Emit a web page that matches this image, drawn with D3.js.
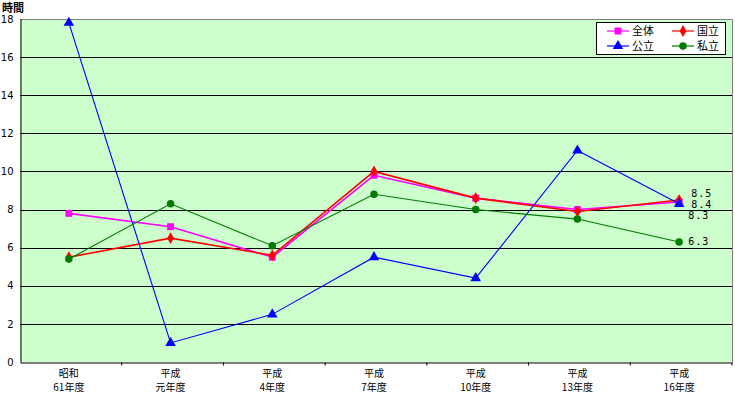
<!DOCTYPE html>
<html lang="ja">
<head>
  <meta charset="UTF-8">
  <title>時間</title>
  <style>
    body { margin: 0; background: #fff; }
    text { font-family: "Noto Sans CJK JP", "DejaVu Sans", sans-serif; }
    .grid { stroke: #000; stroke-width: 1; }
    .lbl { font-size: 10px; fill: #000; }
  </style>
</head>
<body>
  <div id="chart"></div>
  <script src="https://cdn.jsdelivr.net/npm/d3@7"></script>
  <script>
    // カテゴリ
    var categories = [['昭和', '61年度'], ['平成', '元年度'], ['平成', '4年度'], ['平成', '7年度'],
      ['平成', '10年度'], ['平成', '13年度'], ['平成', '16年度']];
    var yTicks = [0, 2, 4, 6, 8, 10, 12, 14, 16, 18];
    var zentai = [7.8, 7.1, 5.5, 9.8, 8.6, 8.0, 8.4];
    var kokuritsu = [5.5, 6.5, 5.6, 10.0, 8.6, 7.9, 8.5];
    var kouritsu = [17.8, 1.0, 2.5, 5.5, 4.4, 11.1, 8.3];
    var shiritsu = [5.4, 8.3, 6.1, 8.8, 8.0, 7.5, 6.3];

    var series = [
      { name: '全体', values: zentai, color: '#ff00ff', mark: 'square', w: 1.6 },
      { name: '国立', values: kokuritsu, color: '#ff0000', mark: 'diamond', w: 1.6 },
      { name: '公立', values: kouritsu, color: '#0000ff', mark: 'triangle', w: 1.1 },
      { name: '私立', values: shiritsu, color: '#007a00', mark: 'circle', w: 1.1 }
    ];
    // 最後の年度に値ラベルを付ける
    var endLabels = [
      { v: kokuritsu[6], dx: 12, dy: -3 },
      { v: zentai[6], dx: 12, dy: 6 },
      { v: kouritsu[6], dx: 9, dy: 15 },
      { v: shiritsu[6], dx: 9, dy: 3 }
    ];

    var W = 735, H = 394;
    var pL = 20, pR = 732, pT = 19, pB = 362;

    var svg = d3.select('#chart').append('svg')
      .attr('width', W).attr('height', H);

    var x = d3.scaleBand().domain(d3.range(categories.length)).range([pL, pR]);
    var y = d3.scaleLinear().domain([0, 18]).range([pB, pT]);

    svg.append('rect')
      .attr('x', pL).attr('y', pT)
      .attr('width', pR - pL).attr('height', pB - pT)
      .attr('fill', '#ccffcc');

    // 目盛線
    svg.selectAll('line.grid')
      .data(yTicks.filter(function (d) { return d > 0 && d < 18; }))
      .enter().append('line')
      .attr('class', 'grid')
      .attr('x1', pL).attr('x2', pR)
      .attr('y1', function (d) { return Math.round(y(d)) + 0.5; })
      .attr('y2', function (d) { return Math.round(y(d)) + 0.5; });

    // 枠 (上・右は灰色)
    svg.append('path')
      .attr('d', 'M' + pL + ',' + (pT + 0.5) + 'H' + (pR + 0.5) + 'V' + pB)
      .attr('fill', 'none').attr('stroke', '#808080');

    // y軸
    var yAxis = svg.append('g')
      .attr('transform', 'translate(' + (pL + 0.5) + ',0)')
      .call(d3.axisLeft(y).tickValues(yTicks).tickSize(0).tickPadding(7));
    yAxis.select('.domain').attr('stroke', '#000');
    yAxis.selectAll('text').attr('class', 'lbl').style('font-size', '10px')
      .style('font-family', '"DejaVu Sans", sans-serif');

    // x軸
    var xAxis = svg.append('g')
      .attr('transform', 'translate(0,' + (pB + 0.5) + ')')
      .call(d3.axisBottom(x).tickSize(0).tickFormat(''));
    xAxis.select('.domain').attr('stroke', '#000').attr('stroke-width', 1.2);
    xAxis.selectAll('line.sep')
      .data(d3.range(1, categories.length + 1))
      .enter().append('line')
      .attr('x1', function (i) { return x(i) !== undefined ? x(i) : pR; })
      .attr('x2', function (i) { return x(i) !== undefined ? x(i) : pR; })
      .attr('y1', 0).attr('y2', 3)
      .attr('stroke', '#000');

    function cx(i) { return x(i) + x.bandwidth() / 2 - 2; }

    var xl = svg.append('g').selectAll('text.xl')
      .data(categories).enter().append('text')
      .attr('class', 'lbl')
      .attr('text-anchor', 'middle')
      .attr('x', function (d, i) { return cx(i); })
      .attr('y', 377);
    xl.append('tspan').text(function (d) { return d[0]; });
    xl.append('tspan')
      .attr('x', function (d, i) { return cx(i); })
      .attr('dy', 14)
      .text(function (d) { return d[1]; });

    svg.append('text')
      .attr('x', 2).attr('y', 12)
      .style('font-size', '11px').style('font-weight', 'bold')
      .text('時間');

    var symbolTypes = {
      square: d3.symbolSquare, diamond: d3.symbolDiamond,
      triangle: d3.symbolTriangle, circle: d3.symbolCircle
    };
    var symbolSize = { square: 48, diamond: 40, triangle: 48, circle: 44 };

    var line = d3.line()
      .x(function (d, i) { return cx(i); })
      .y(function (d) { return y(d); });

    series.forEach(function (s) {
      var g = svg.append('g');
      g.append('path')
        .datum(s.values)
        .attr('d', line)
        .attr('fill', 'none')
        .attr('stroke', s.color)
        .attr('stroke-width', s.w);
      g.selectAll('path.pt')
        .data(s.values).enter().append('path')
        .attr('transform', function (d, i) { return 'translate(' + cx(i) + ',' + y(d) + ')'; })
        .attr('d', d3.symbol().type(symbolTypes[s.mark]).size(symbolSize[s.mark]))
        .attr('fill', s.color);
    });

    // 値ラベル
    svg.selectAll('text.vl')
      .data(endLabels).enter().append('text')
      .attr('class', 'lbl')
      .style('font-family', '"DejaVu Sans Mono", monospace')
      .style('font-size', '10px')
      .style('letter-spacing', '1px')
      .attr('x', function (d) { return cx(6) + d.dx; })
      .attr('y', function (d) { return y(d.v) + d.dy; })
      .text(function (d) { return d3.format('.1f')(d.v); });

    // 凡例
    var lg = svg.append('g').attr('transform', 'translate(596,22)');
    lg.append('rect')
      .attr('x', 0.5).attr('y', 0.5).attr('width', 129).attr('height', 32)
      .attr('fill', '#fff').attr('stroke', '#000');
    var items = lg.selectAll('g.item')
      .data(series).enter().append('g')
      .attr('transform', function (d, i) {
        return 'translate(' + (11 + (i % 2) * 65) + ',' + (9 + Math.floor(i / 2) * 15) + ')';
      });
    items.append('line')
      .attr('x1', 0).attr('x2', 22).attr('y1', 0).attr('y2', 0)
      .attr('stroke', function (d) { return d.color; })
      .attr('stroke-width', 1.2);
    items.append('path')
      .attr('transform', 'translate(11,0)')
      .attr('d', function (d) { return d3.symbol().type(symbolTypes[d.mark]).size(symbolSize[d.mark])(); })
      .attr('fill', function (d) { return d.color; });
    items.append('text')
      .attr('class', 'lbl')
      .style('font-size', '11px')
      .attr('x', 25).attr('y', 4)
      .text(function (d) { return d.name; });
  </script>
</body>
</html>
